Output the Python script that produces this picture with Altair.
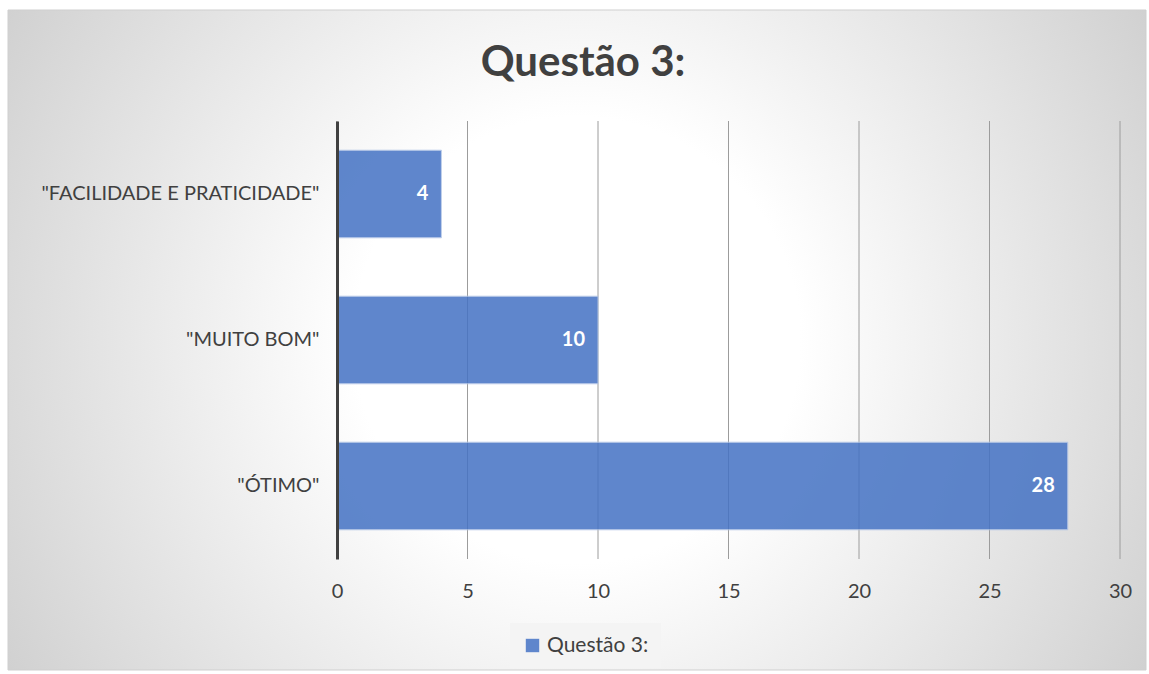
import altair as alt
import pandas as pd

categories = ['"FACILIDADE E PRATICIDADE"', '"MUITO BOM"', '"ÓTIMO"']
values = [4, 10, 28]
series_name = "Questão 3:"
x_ticks = [0, 5, 10, 15, 20, 25, 30]
title_text = "Questão 3:"

FONT = "Lato"
W, H = 783, 438
PAD_L, PAD_T = 337, 121

df = pd.DataFrame({"cat": categories, "val": values, "serie": [series_name] * len(values)})
ticks_df = pd.DataFrame({"t": x_ticks})
one = pd.DataFrame({"a": [0]})

x_scale = alt.Scale(domain=[0, 30], nice=False, zero=True)

bg = alt.Chart(one).mark_rect(
    fill={
        "gradient": "radial",
        "x1": 0.5, "y1": 0.5, "r1": 0,
        "x2": 0.5, "y2": 0.5, "r2": 0.7,
        "stops": [
            {"offset": 0, "color": "#FFFFFF"},
            {"offset": 0.28, "color": "#FFFFFF"},
            {"offset": 1, "color": "#C2C2C2"},
        ],
    },
    stroke="#CFCFCF",
    strokeWidth=1,
).encode(
    x=alt.value(8 - PAD_L), x2=alt.value(1146 - PAD_L),
    y=alt.value(10 - PAD_T), y2=alt.value(670 - PAD_T),
)

grid = alt.Chart(ticks_df).mark_rule(color="#9C9C9C", strokeWidth=1).encode(
    x=alt.X("t:Q", scale=x_scale),
    y=alt.value(0), y2=alt.value(H),
)

bars = alt.Chart(df).mark_bar(
    opacity=0.85, stroke="#B4C7E7", strokeWidth=1, strokeOpacity=1
).encode(
    y=alt.Y("cat:N", sort=categories,
            scale=alt.Scale(paddingInner=0.4, paddingOuter=0.2),
            axis=alt.Axis(title=None, ticks=False, labelPadding=18, labelFontSize=20,
                          labelColor="#404040", labelFont=FONT, domain=True,
                          domainColor="#404040", domainWidth=3, grid=False, zindex=1,
                          labelLimit=400)),
    x=alt.X("val:Q", scale=x_scale,
            axis=alt.Axis(title=None, values=x_ticks, grid=False, domain=False, ticks=False,
                          labelPadding=22, labelFontSize=20, labelColor="#404040",
                          labelFont=FONT, zindex=1, labelFlush=False, labelOverlap=False)),
    color=alt.Color("serie:N",
                    scale=alt.Scale(domain=[series_name], range=["#4472C4"]),
                    legend=alt.Legend(title=None, orient="none", legendX=173, legendY=502,
                                      symbolType="square", symbolSize=180,
                                      symbolOpacity=0.85, symbolStrokeWidth=0,
                                      labelFontSize=21, labelColor="#404040", labelFont=FONT,
                                      padding=12, fillColor="#F4F4F4", labelOffset=4,
                                      zindex=1)),
)

labels = alt.Chart(df).mark_text(
    align="right", baseline="middle", dx=-13, color="white",
    font=FONT, fontWeight="bold", fontSize=20,
).encode(
    y=alt.Y("cat:N", sort=categories),
    x=alt.X("val:Q", scale=x_scale),
    text=alt.Text("val:Q"),
)

title = alt.Chart(one).mark_text(
    text=title_text, font=FONT, fontWeight="bold", fontSize=42, color="#404040",
    align="center", baseline="middle",
).encode(x=alt.value(583 - PAD_L), y=alt.value(63 - PAD_T))

chart = alt.layer(bg, grid, bars, labels, title).properties(
    width=W, height=H,
    autosize=alt.AutoSizeParams(type="none"),
    padding={"left": PAD_L, "top": PAD_T, "right": 1149 - PAD_L - W, "bottom": 674 - PAD_T - H},
).configure(background="white").configure_view(stroke=None)

chart.save("out.html", embed_options={"renderer": "svg", "actions": False})
